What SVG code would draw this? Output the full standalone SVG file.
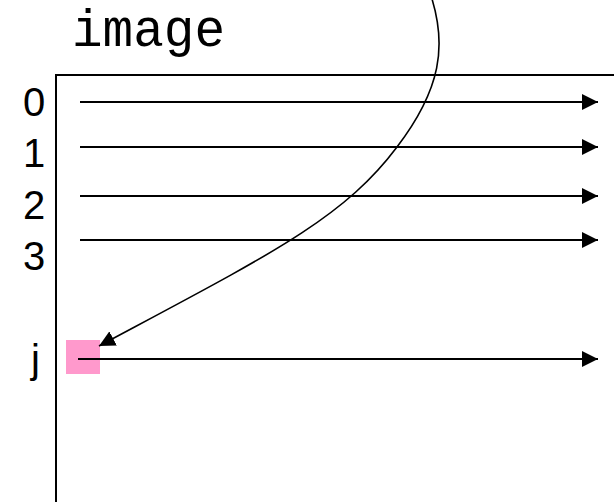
<svg xmlns="http://www.w3.org/2000/svg" width="614" height="502" viewBox="0 0 614 502">
<defs>
<marker id="ah" markerUnits="userSpaceOnUse" markerWidth="16" markerHeight="16" refX="16" refY="8" orient="auto">
<path d="M0,0 L16,8 L0,16 z" fill="#000"/>
</marker>
<style>
.lbl{font-family:"Liberation Sans",Arial,sans-serif;font-size:40px;fill:#000}
.ttl{font-family:"Liberation Mono","Courier New",monospace;font-size:51px;fill:#000}
.ln{stroke:#000;stroke-width:2;fill:none}
.cv{stroke:#000;stroke-width:1.6;fill:none}
</style>
</defs>
<rect width="614" height="502" fill="#fff"/>
<g id="image-title"><text class="ttl" x="72" y="46">image</text></g>
<g id="image-frame"><path d="M56,520 L56,75 L630,75" class="ln"/></g>
<g id="row-labels">
<text class="lbl" x="23" y="116">0</text>
<text class="lbl" x="23" y="167">1</text>
<text class="lbl" x="23" y="219">2</text>
<text class="lbl" x="23" y="270">3</text>
<text class="lbl" x="31" y="373">j</text>
</g>
<g id="pixel"><rect x="66" y="340" width="34" height="34" fill="#FF99CC"/></g>
<g id="connectors">
<line class="ln" x1="80" y1="102" x2="598" y2="102" marker-end="url(#ah)"/>
<line class="ln" x1="80" y1="147" x2="598" y2="147" marker-end="url(#ah)"/>
<line class="ln" x1="80" y1="196" x2="598" y2="196" marker-end="url(#ah)"/>
<line class="ln" x1="80" y1="240" x2="598" y2="240" marker-end="url(#ah)"/>
<line class="ln" x1="78" y1="359" x2="598" y2="359" marker-end="url(#ah)"/>
<path class="cv" d="M432,-1 C446,45 442,88 397,147 C343,219 271,254 99,346" marker-end="url(#ah)"/>
</g>
</svg>
